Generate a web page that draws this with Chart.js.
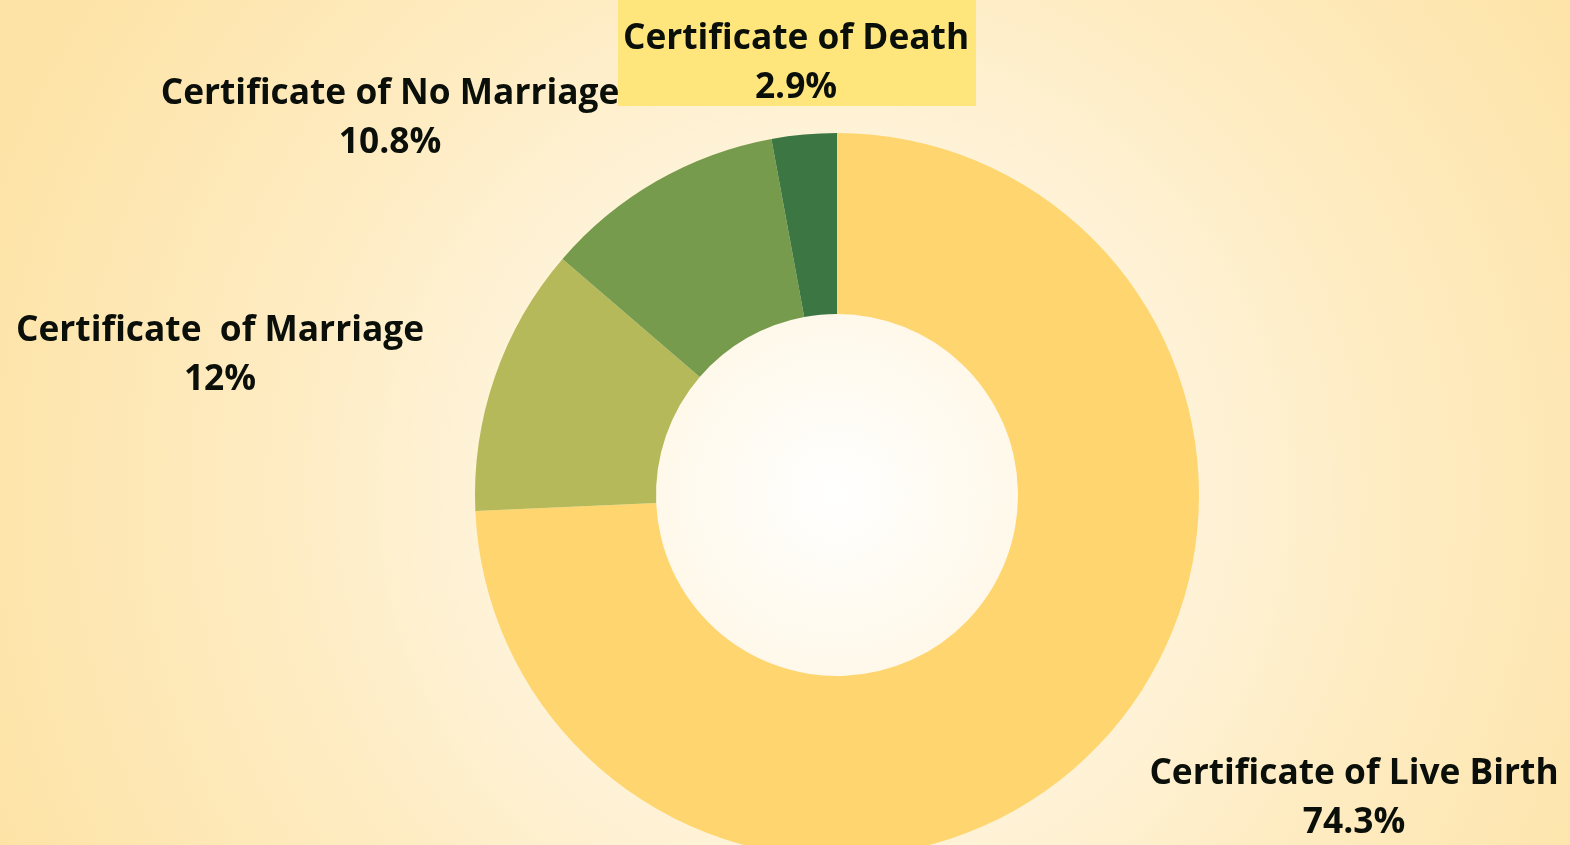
<!DOCTYPE html>
<html>
<head>
<meta charset="utf-8">
<script src="https://cdn.jsdelivr.net/npm/chart.js@4.4.1/dist/chart.umd.min.js"></script>
<style>
  html, body { margin: 0; padding: 0; overflow: hidden; }
  body {
    width: 1570px; height: 845px;
    background: radial-gradient(circle at 835px 494px, #ffffff 0px, #fff8e8 200px, #feecc3 550px, #fde3a6 900px);
  }
  #wrap { position: relative; width: 1570px; height: 900px; }
</style>
</head>
<body>
<div id="wrap"><canvas id="chart"></canvas></div>
<script>
  // data
  const labels = ["Certificate of Live Birth", "Certificate  of Marriage", "Certificate of No Marriage", "Certificate of Death"];
  const valueLabels = ["74.3%", "12%", "10.8%", "2.9%"];
  const values = [74.3, 12, 10.8, 2.9];
  const colors = ["#fed56f", "#b5b95a", "#779b4d", "#3c7642"];

  // label anchor points (centre of first line)
  const labelPos = [[1354, 774], [220, 331], [390, 94], [796, 39]];

  const labelPlugin = {
    id: "labels",
    beforeDatasetsDraw(chart) {
      const ctx = chart.ctx;
      // highlighted box behind the death label
      ctx.save();
      ctx.fillStyle = "#fee67c";
      ctx.fillRect(618, 0, 358, 106);
      ctx.restore();
    },
    afterDraw(chart) {
      const ctx = chart.ctx;
      ctx.save();
      ctx.fillStyle = "#0b0f0a";
      ctx.font = "bold 35.3px 'Open Sans'";
      ctx.textAlign = "center";
      ctx.textBaseline = "middle";
      labels.forEach((l, i) => {
        const [x, y] = labelPos[i];
        ctx.fillText(l, x, y);
        ctx.fillText(valueLabels[i], x, y + 49);
      });
      ctx.restore();
    }
  };

  new Chart(document.getElementById("chart"), {
    type: "doughnut",
    data: {
      labels: labels,
      datasets: [{
        data: values,
        backgroundColor: colors,
        borderWidth: 0,
        hoverOffset: 0
      }]
    },
    options: {
      responsive: true,
      maintainAspectRatio: false,
      animation: false,
      cutout: "50%",
      layout: { padding: { top: 133, bottom: 43, left: 475, right: 371 } },
      plugins: {
        legend: { display: false },
        tooltip: { enabled: false }
      }
    },
    plugins: [labelPlugin]
  });
</script>
</body>
</html>
